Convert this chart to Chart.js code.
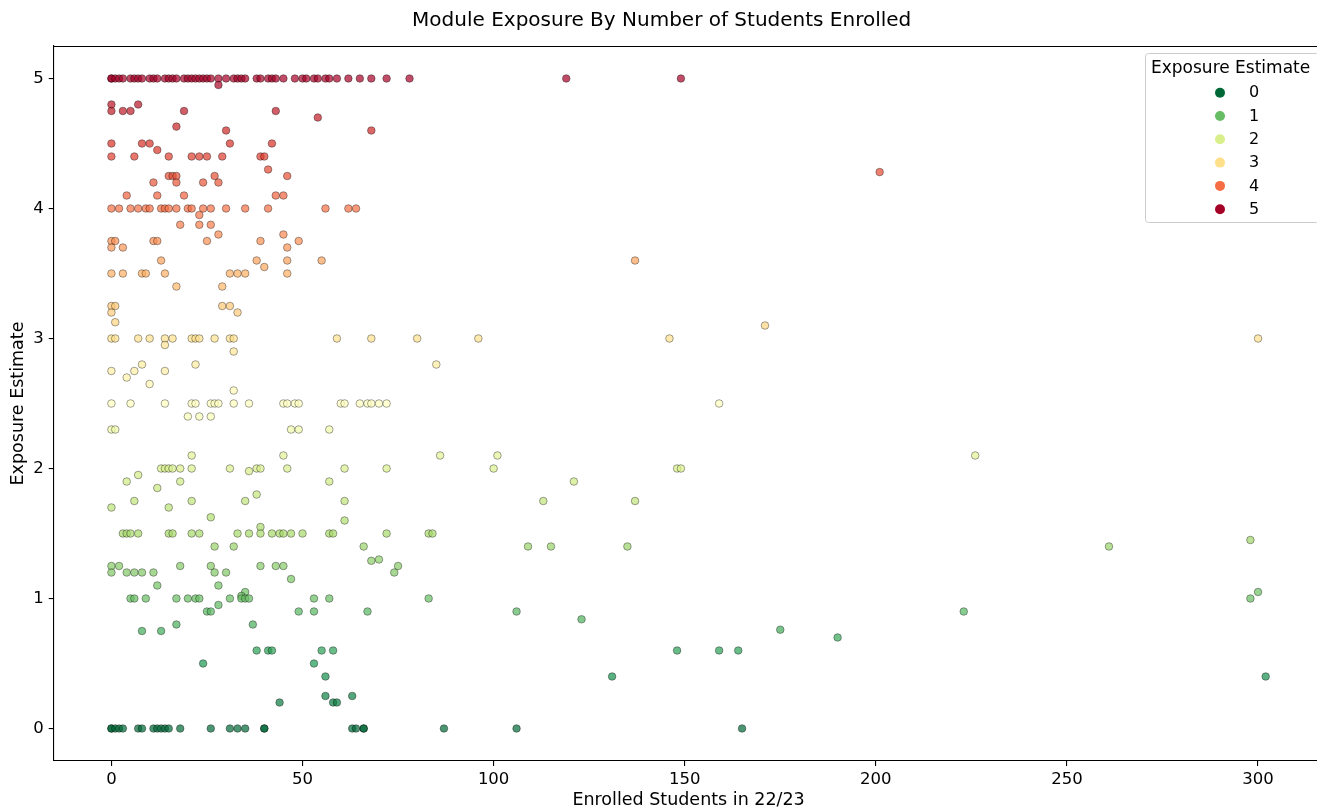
<!DOCTYPE html>
<html>
<head>
<meta charset="utf-8">
<script src="https://cdn.jsdelivr.net/npm/chart.js@4.4.1/dist/chart.umd.min.js"></script>
<style>
html,body{margin:0;padding:0;overflow:hidden;background:#fff}
#wrap{position:relative;width:1330px;height:808px}
</style>
</head>
<body>
<div id="wrap"><canvas id="c"></canvas></div>
<script>
// ---- data ----
const exposureLevels = [5, 4.95, 4.8, 4.75, 4.7, 4.63, 4.6, 4.5, 4.45, 4.4, 4.3, 4.28, 4.25, 4.2, 4.1, 4, 3.95, 3.875, 3.8, 3.75, 3.7, 3.6, 3.55, 3.5, 3.4, 3.25, 3.2, 3.125, 3.1, 3, 2.95, 2.9, 2.8, 2.75, 2.7, 2.65, 2.6, 2.5, 2.4, 2.3, 2.1, 2, 1.98, 1.95, 1.9, 1.85, 1.8, 1.75, 1.7, 1.625, 1.6, 1.55, 1.5, 1.45, 1.4, 1.3, 1.29, 1.25, 1.2, 1.15, 1.1, 1.05, 1.02, 1, 0.95, 0.9, 0.84, 0.8, 0.76, 0.75, 0.7, 0.6, 0.5, 0.4, 0.25, 0.2, 0];
const enrolledAtLevel = [
  [0,0,1,2,3,5,6,7,8,10,11,12,14,15,16,17,19,20,21,22,23,24,25,26,28,30,32,33,34,35,38,39,41,42,43,45,48,50,51,53,54,56,57,59,62,65,68,72,78,119,149],
  [28],
  [0,7],
  [0,3,5,19,43],
  [54],
  [17],
  [30,68],
  [0,8,10,31,42],
  [12],
  [0,6,15,21,23,25,29,39,40],
  [41],
  [201],
  [15,16,17,27,46],
  [11,17,24,28],
  [4,12,19,43,45],
  [0,2,5,7,9,10,13,14,15,17,20,21,24,26,30,35,41,56,62,64],
  [23],
  [18,23,26],
  [28,45],
  [0,1,11,12,25,39,49],
  [0,3,46],
  [13,38,46,55,137],
  [40],
  [0,3,8,9,14,31,33,35,46],
  [17,29],
  [0,1,29,31],
  [0,33],
  [1],
  [171],
  [0,1,7,10,14,16,21,22,23,27,31,32,59,68,80,96,146,300],
  [14],
  [32],
  [8,22,85],
  [0,6,14],
  [4],
  [10],
  [32],
  [0,5,14,21,22,26,27,28,32,36,45,46,48,49,60,61,65,67,68,70,72,159],
  [20,23,26],
  [0,1,47,49,57],
  [21,45,86,101,226],
  [13,14,15,16,18,21,31,38,39,46,61,72,100,148,149],
  [36],
  [7],
  [4,18,57,121],
  [12],
  [38],
  [6,21,35,61,113,137],
  [0,15],
  [26],
  [61],
  [39],
  [3,4,5,7,15,16,21,23,33,36,39,42,44,45,47,50,57,58,72,83,84],
  [298],
  [27,32,66,109,115,135,261],
  [70],
  [68],
  [0,2,18,26,39,43,45,75],
  [0,4,6,8,11,27,30,74],
  [47],
  [12,28],
  [35,300],
  [34],
  [5,6,9,17,20,22,23,31,34,35,36,53,57,83,298],
  [28],
  [25,26,49,53,67,106,223],
  [123],
  [17,37],
  [175],
  [8,13],
  [190],
  [38,41,42,55,58,148,159,164],
  [24,53],
  [56,131,302],
  [56,63],
  [44,58,59],
  [0,0,1,2,3,7,8,11,12,13,14,15,18,26,31,33,35,40,40,63,64,66,66,87,106,165]
];
const xTicks = [0, 50, 100, 150, 200, 250, 300];
const yTicks = [0, 1, 2, 3, 4, 5];
const legendLevels = [0, 1, 2, 3, 4, 5];
const titleText = 'Module Exposure By Number of Students Enrolled';
const xLabel = 'Enrolled Students in 22/23';
const yLabel = 'Exposure Estimate';
const legendTitle = 'Exposure Estimate';

// ---- RdYlGn_r colormap ----
const rdylgn = ['#a50026','#d73027','#f46d43','#fdae61','#fee08b','#ffffbf','#d9ef8b','#a6d96a','#66bd63','#1a9850','#006837'];
function hexRgb(h){return [parseInt(h.slice(1,3),16),parseInt(h.slice(3,5),16),parseInt(h.slice(5,7),16)];}
function cmap(v, a){
  const t = Math.max(0, Math.min(1, 1 - v/5)) * 10;
  const i = Math.min(9, Math.floor(t)), f = t - i;
  const c0 = hexRgb(rdylgn[i]), c1 = hexRgb(rdylgn[i+1]);
  const c = c0.map((c, k) => Math.round(c + (c1[k]-c)*f));
  return `rgba(${c[0]},${c[1]},${c[2]},${a})`;
}

const points = [];
exposureLevels.forEach((y, i) => enrolledAtLevel[i].forEach(x => points.push({x, y})));

Chart.defaults.font.family = '"DejaVu Sans", sans-serif';
Chart.defaults.color = '#000';

const framePlugin = {
  id: 'frame',
  afterDraw(chart) {
    const {ctx, chartArea: a} = chart;
    ctx.save();
    ctx.strokeStyle = '#000';
    ctx.lineWidth = 1.1;
    ctx.beginPath();
    ctx.moveTo(a.left, a.top + 0.5);
    ctx.lineTo(a.right, a.top + 0.5);
    ctx.lineTo(a.right, a.bottom);
    ctx.stroke();
    ctx.restore();
  }
};

const legendPlugin = {
  id: 'hueLegend',
  afterDraw(chart) {
    const ctx = chart.ctx;
    ctx.save();
    const x0 = 1145.5, y0 = 53.5, w = 174, h = 169;
    ctx.beginPath();
    ctx.roundRect(x0, y0, w, h, 3);
    ctx.fillStyle = 'rgba(255,255,255,0.8)';
    ctx.fill();
    ctx.strokeStyle = '#cccccc';
    ctx.lineWidth = 1;
    ctx.stroke();
    ctx.fillStyle = '#000';
    ctx.textBaseline = 'middle';
    ctx.textAlign = 'left';
    ctx.font = '17px "DejaVu Sans"';
    ctx.fillText(legendTitle, 1151, 68.5);
    legendLevels.forEach((v, i) => {
      const cy = 92.7 + i * 23.3;
      ctx.beginPath();
      ctx.arc(1220, cy, 5, 0, Math.PI * 2);
      ctx.fillStyle = cmap(v, 1);
      ctx.fill();
      ctx.fillStyle = '#000';
      ctx.font = '16px "DejaVu Sans"';
      ctx.fillText(String(v), 1249, cy + 0.5);
    });
    ctx.restore();
  }
};

new Chart(document.getElementById('c'), {
  type: 'scatter',
  data: {
    datasets: [{
      data: points,
      pointBackgroundColor: points.map(p => cmap(p.y, 0.7)),
      pointBorderColor: 'rgba(0,0,0,0.6)',
      pointBorderWidth: 0.6,
      pointRadius: 3.8,
      pointHoverRadius: 3.8
    }]
  },
  options: {
    responsive: true,
    maintainAspectRatio: false,
    animation: false,
    events: [],
    layout: { padding: { left: 0, right: 6.6, top: 0, bottom: 0 } },
    plugins: {
      legend: { display: false },
      tooltip: { enabled: false },
      title: {
        display: true,
        text: titleText,
        font: { size: 20, weight: 'normal' },
        color: '#000',
        padding: { top: 9, bottom: 13 }
      }
    },
    scales: {
      x: {
        type: 'linear',
        min: -15.1,
        max: 317.1,
        afterBuildTicks: s => { s.ticks = xTicks.map(v => ({value: v})); },
        afterFit: s => { s.height = 47; },
        grid: { display: true, drawOnChartArea: false, drawTicks: true, tickLength: 5, color: '#000', lineWidth: 1.1 },
        border: { display: true, color: '#000', width: 1.1 },
        ticks: { font: { size: 16.5 }, color: '#000', padding: 4, maxRotation: 0 },
        title: { display: true, text: xLabel, font: { size: 17.5, lineHeight: 0.85 }, color: '#000', padding: { top: 0, bottom: 0 } }
      },
      y: {
        type: 'linear',
        min: -0.25,
        max: 5.25,
        afterBuildTicks: s => { s.ticks = yTicks.map(v => ({value: v})); },
        afterFit: s => { s.width = 53.7; },
        grid: { display: true, drawOnChartArea: false, drawTicks: true, tickLength: 5, color: '#000', lineWidth: 1.1 },
        border: { display: true, color: '#000', width: 1.1 },
        ticks: { font: { size: 16.5 }, color: '#000', padding: 5 },
        title: { display: true, text: yLabel, font: { size: 17.5, lineHeight: 1.2 }, color: '#000', padding: { top: 7.5, bottom: 0 } }
      }
    }
  },
  plugins: [framePlugin, legendPlugin]
});
</script>
</body>
</html>
